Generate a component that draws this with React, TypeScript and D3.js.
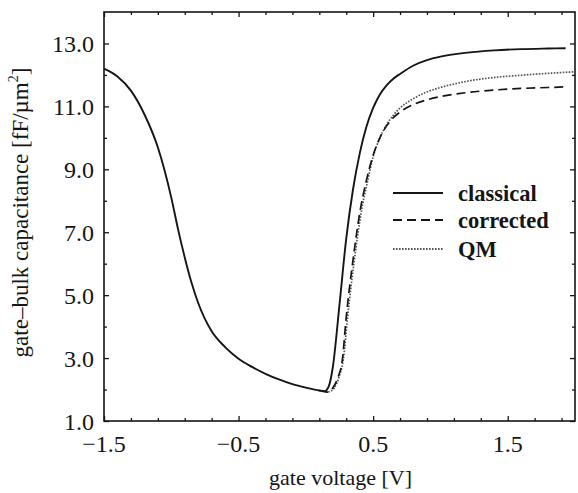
import React, { useEffect, useRef } from 'react';
import * as d3 from 'd3';

// gate voltage [V] and capacitance [fF/um^2]
const classicalV = [-1.5, -1.4, -1.3, -1.2, -1.1, -1.0, -0.95, -0.9, -0.85, -0.8, -0.7, -0.6, -0.5, -0.4, -0.3, -0.2, -0.1, 0.0, 0.1, 0.14, 0.17, 0.2, 0.25, 0.3, 0.35, 0.4, 0.45, 0.5, 0.55, 0.6, 0.65, 0.7, 0.8, 0.9, 1.0, 1.2, 1.4, 1.6, 1.8, 1.93];
const classicalC = [12.2, 11.95, 11.5, 10.75, 9.7, 8.1, 7.1, 6.2, 5.4, 4.75, 3.85, 3.35, 2.98, 2.72, 2.5, 2.32, 2.17, 2.06, 1.97, 1.95, 2.1, 2.7, 4.7, 6.8, 8.35, 9.5, 10.35, 10.95, 11.38, 11.67, 11.88, 12.03, 12.3, 12.47, 12.58, 12.71, 12.78, 12.82, 12.84, 12.85];

const correctedV = [0.1, 0.13, 0.16, 0.2, 0.24, 0.27, 0.3, 0.35, 0.4, 0.45, 0.5, 0.55, 0.6, 0.65, 0.7, 0.8, 0.9, 1.0, 1.2, 1.4, 1.6, 1.8, 1.93];
const correctedC = [1.97, 1.94, 1.92, 2.05, 2.4, 2.9, 4.3, 6.1, 7.6, 8.65, 9.45, 10.0, 10.38, 10.64, 10.82, 11.06, 11.21, 11.31, 11.44, 11.52, 11.57, 11.6, 11.62];

const qmV = [0.1, 0.13, 0.17, 0.21, 0.25, 0.28, 0.31, 0.36, 0.41, 0.46, 0.5, 0.55, 0.6, 0.65, 0.7, 0.8, 0.9, 1.0, 1.2, 1.4, 1.6, 1.8, 2.0];
const qmC = [1.97, 1.94, 1.93, 2.05, 2.45, 3.0, 4.3, 6.1, 7.6, 8.65, 9.4, 10.0, 10.42, 10.72, 10.95, 11.25, 11.46, 11.6, 11.8, 11.92, 11.99, 12.05, 12.1];

const xLabels = [-1.5, -0.5, 0.5, 1.5];
const yLabels = [1, 3, 5, 7, 9, 11, 13];
const legendNames = ['classical', 'corrected', 'QM'];

export default function App() {
  const chartRef = useRef<SVGSVGElement>(null);

  useEffect(() => {
    const svg = d3.select(chartRef.current);
    svg.selectAll('*').remove();

    const W = 578, H = 493;
    const margin = { top: 12, right: 3, bottom: 72, left: 104 };
    const serif = '"Liberation Serif", "Times New Roman", serif';
    const ink = '#151515';

    const x = d3.scaleLinear().domain([-1.5, 2.0]).range([margin.left, W - margin.right]);
    const y = d3.scaleLinear().domain([1, 14]).range([H - margin.bottom, margin.top]);

    const xMinor = d3.range(-1.5, 2.0, 0.2).map(v => +v.toFixed(1)).filter(v => !xLabels.includes(v));
    const yMinor = d3.range(2, 14, 2);

    const addTicks = (axis: any, transform: string) => {
      svg.append('g')
        .attr('transform', transform)
        .call(axis)
        .call((g: any) => g.select('.domain').remove())
        .call((g: any) => g.selectAll('line').attr('stroke', ink).attr('stroke-width', 1.3));
    };
    const bottom = `translate(0,${y(1)})`;
    const top = `translate(0,${y(14)})`;
    const left = `translate(${x(-1.5)},0)`;
    const right = `translate(${x(2.0)},0)`;

    // inward ticks on all four sides
    addTicks(d3.axisBottom(x).tickValues(xMinor).tickSize(-3).tickFormat(() => ''), bottom);
    addTicks(d3.axisBottom(x).tickValues(xLabels).tickSize(-5).tickFormat(() => ''), bottom);
    addTicks(d3.axisTop(x).tickValues(xMinor).tickSize(-3).tickFormat(() => ''), top);
    addTicks(d3.axisTop(x).tickValues(xLabels).tickSize(-5).tickFormat(() => ''), top);
    addTicks(d3.axisLeft(y).tickValues(yMinor).tickSize(-3).tickFormat(() => ''), left);
    addTicks(d3.axisLeft(y).tickValues(yLabels).tickSize(-5).tickFormat(() => ''), left);
    addTicks(d3.axisRight(y).tickValues(yMinor).tickSize(-3).tickFormat(() => ''), right);
    addTicks(d3.axisRight(y).tickValues(yLabels).tickSize(-5).tickFormat(() => ''), right);

    // frame
    svg.append('rect')
      .attr('x', x(-1.5)).attr('y', y(14))
      .attr('width', x(2.0) - x(-1.5)).attr('height', y(1) - y(14))
      .attr('fill', 'none').attr('stroke', ink).attr('stroke-width', 1.6);

    // tick labels
    const fmt = d3.format('.1f');
    svg.append('g').selectAll('text').data(xLabels).join('text')
      .attr('x', d => x(d)).attr('y', y(1) + 31)
      .attr('text-anchor', 'middle')
      .attr('font-family', serif).attr('font-size', 24).attr('fill', ink)
      .text(d => fmt(d).replace('-', '\u2212'));
    svg.append('g').selectAll('text').data(yLabels).join('text')
      .attr('x', x(-1.5) - 10).attr('y', d => y(d) + 8.5)
      .attr('text-anchor', 'end')
      .attr('font-family', serif).attr('font-size', 24).attr('fill', ink)
      .text(d => fmt(d));

    // axis titles
    svg.append('text')
      .attr('x', (x(-1.5) + x(2.0)) / 2 + 1).attr('y', 485)
      .attr('text-anchor', 'middle')
      .attr('font-family', serif).attr('font-size', 22).attr('fill', ink)
      .text('gate voltage [V]');
    const yt = svg.append('text')
      .attr('transform', `translate(28,${(y(1) + y(14)) / 2 - 4}) rotate(-90)`)
      .attr('text-anchor', 'middle')
      .attr('font-family', serif).attr('font-size', 23).attr('fill', ink);
    yt.append('tspan').text('gate\u2013bulk capacitance [fF/\u00b5m');
    yt.append('tspan').attr('font-size', 14).attr('dy', -10).text('2');
    yt.append('tspan').attr('dy', 10).text(']');

    // curves
    const line = d3.line<[number, number]>()
      .x(d => x(d[0]))
      .y(d => y(d[1]))
      .curve(d3.curveMonotoneX);

    const series = [
      { v: qmV, c: qmC, dash: '1.6,1.4', width: 1.7, color: '#555' },
      { v: correctedV, c: correctedC, dash: '9,5', width: 1.7, color: ink },
      { v: classicalV, c: classicalC, dash: null, width: 1.9, color: ink },
    ];
    series.forEach(s => {
      svg.append('path')
        .datum(s.v.map((v, i) => [v, s.c[i]] as [number, number]))
        .attr('fill', 'none')
        .attr('stroke', s.color)
        .attr('stroke-width', s.width)
        .attr('stroke-dasharray', s.dash)
        .attr('d', line);
    });

    // legend
    const legendStyles = [
      { dash: null, color: ink },
      { dash: '9,5', color: ink },
      { dash: '1.6,1.4', color: '#555' },
    ];
    const ly = [193, 220, 249];
    legendNames.forEach((name, i) => {
      svg.append('line')
        .attr('x1', 393).attr('x2', 443).attr('y1', ly[i]).attr('y2', ly[i])
        .attr('stroke', legendStyles[i].color).attr('stroke-width', 1.8)
        .attr('stroke-dasharray', legendStyles[i].dash);
      svg.append('text')
        .attr('x', 458).attr('y', ly[i] + 8)
        .attr('font-family', serif).attr('font-size', 22.5).attr('font-weight', 'bold').attr('fill', ink)
        .text(name);
    });
  }, []);

  return (
    <svg ref={chartRef} width={578} height={493} style={{ position: 'absolute', left: 0, top: 0, background: '#fff' }} />
  );
}
